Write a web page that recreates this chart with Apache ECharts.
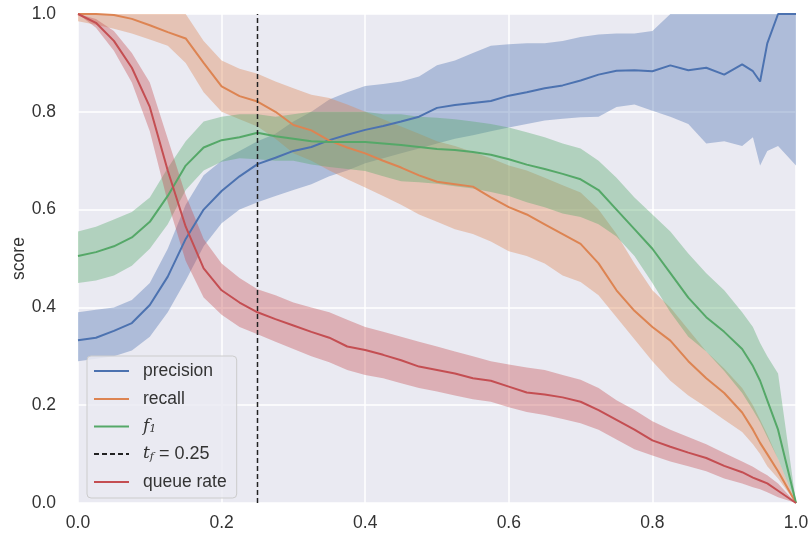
<!DOCTYPE html>
<html>
<head>
<meta charset="utf-8">
<script src="https://cdn.jsdelivr.net/npm/echarts@6/dist/echarts.min.js"></script>
<style>
  html, body { margin: 0; padding: 0; background: #fff; }
  #chart { width: 811px; height: 548px; }
</style>
</head>
<body>
<div id="chart"></div>
<script>
// thresholds (x) shared by every curve
var xs = [0, 0.025, 0.05, 0.075, 0.1, 0.125, 0.15, 0.175, 0.2, 0.225,
  0.25, 0.275, 0.3, 0.325, 0.35, 0.375, 0.4, 0.425, 0.45, 0.475,
  0.5, 0.525, 0.55, 0.575, 0.6, 0.625, 0.65, 0.675, 0.7, 0.725,
  0.75, 0.775, 0.8, 0.825, 0.85, 0.875, 0.9, 0.925, 0.94, 0.95,
  0.96, 0.975, 1.0];

var precMean = [0.333, 0.338, 0.352, 0.368, 0.405, 0.463, 0.54, 0.60, 0.638, 0.668,
  0.693, 0.706, 0.72, 0.728, 0.742, 0.753, 0.763, 0.771, 0.78, 0.79,
  0.808, 0.814, 0.818, 0.822, 0.833, 0.84, 0.848, 0.854, 0.864, 0.876,
  0.884, 0.885, 0.883, 0.895, 0.885, 0.89, 0.876, 0.897, 0.883, 0.862,
  0.94, 1.0, 1.0];
var precLo = [0.29, 0.295, 0.30, 0.312, 0.34, 0.39, 0.455, 0.525, 0.572, 0.60,
  0.615, 0.628, 0.64, 0.652, 0.668, 0.68, 0.695, 0.705, 0.715, 0.725,
  0.735, 0.745, 0.752, 0.76, 0.768, 0.775, 0.782, 0.786, 0.789, 0.79,
  0.81, 0.815, 0.802, 0.79, 0.775, 0.735, 0.74, 0.73, 0.748, 0.69,
  0.72, 0.73, 0.69];
var precHi = [0.39, 0.395, 0.40, 0.415, 0.45, 0.52, 0.61, 0.67, 0.70, 0.72,
  0.74, 0.755, 0.78, 0.80, 0.825, 0.84, 0.853, 0.857, 0.862, 0.872,
  0.895, 0.905, 0.92, 0.935, 0.938, 0.94, 0.94, 0.945, 0.953, 0.958,
  0.96, 0.96, 0.965, 1.0, 1.0, 1.0, 1.0, 1.0, 1.0, 1.0,
  1.0, 1.0, 1.0];

var recMean = [1.0, 1.0, 0.998, 0.99, 0.977, 0.963, 0.95, 0.90, 0.852, 0.832,
  0.821, 0.80, 0.773, 0.762, 0.741, 0.727, 0.715, 0.70, 0.686, 0.67,
  0.657, 0.652, 0.647, 0.625, 0.605, 0.59, 0.57, 0.55, 0.53, 0.49,
  0.435, 0.393, 0.36, 0.332, 0.29, 0.255, 0.225, 0.185, 0.15, 0.123,
  0.10, 0.065, 0.0];
var recLo = [0.985, 0.978, 0.97, 0.96, 0.948, 0.935, 0.90, 0.84, 0.80, 0.785,
  0.77, 0.745, 0.715, 0.70, 0.68, 0.662, 0.645, 0.628, 0.61, 0.59,
  0.575, 0.56, 0.55, 0.535, 0.515, 0.505, 0.49, 0.465, 0.452, 0.425,
  0.38, 0.335, 0.29, 0.25, 0.22, 0.196, 0.17, 0.145, 0.12, 0.10,
  0.075, 0.05, 0.0];
var recHi = [1.0, 1.0, 1.0, 1.0, 1.0, 1.0, 1.0, 0.945, 0.905, 0.888,
  0.878, 0.862, 0.848, 0.835, 0.828, 0.815, 0.80, 0.785, 0.77, 0.755,
  0.74, 0.73, 0.718, 0.705, 0.69, 0.68, 0.665, 0.65, 0.635, 0.60,
  0.55, 0.49, 0.435, 0.40, 0.355, 0.31, 0.275, 0.235, 0.20, 0.17,
  0.14, 0.09, 0.0];

var f1Mean = [0.505, 0.513, 0.525, 0.543, 0.575, 0.628, 0.69, 0.727, 0.742, 0.748,
  0.757, 0.75, 0.745, 0.74, 0.738, 0.738, 0.738, 0.735, 0.732, 0.728,
  0.724, 0.722, 0.718, 0.712, 0.703, 0.692, 0.683, 0.673, 0.662, 0.64,
  0.60, 0.56, 0.52, 0.47, 0.42, 0.38, 0.35, 0.315, 0.28, 0.25,
  0.21, 0.15, 0.0];
var f1Lo = [0.45, 0.455, 0.465, 0.485, 0.52, 0.57, 0.64, 0.68, 0.698, 0.705,
  0.703, 0.70, 0.70, 0.692, 0.687, 0.683, 0.679, 0.668, 0.658, 0.656,
  0.653, 0.648, 0.643, 0.636, 0.628, 0.615, 0.605, 0.592, 0.585, 0.57,
  0.545, 0.505, 0.45, 0.39, 0.34, 0.31, 0.27, 0.225, 0.19, 0.165,
  0.135, 0.09, 0.0];
var f1Hi = [0.555, 0.565, 0.58, 0.595, 0.625, 0.685, 0.74, 0.78, 0.79, 0.795,
  0.795, 0.79, 0.795, 0.80, 0.80, 0.80, 0.80, 0.795, 0.795, 0.79,
  0.788, 0.785, 0.78, 0.775, 0.768, 0.758, 0.748, 0.735, 0.725, 0.70,
  0.665, 0.625, 0.59, 0.555, 0.51, 0.47, 0.435, 0.39, 0.36, 0.327,
  0.30, 0.265, 0.0];

var qMean = [1.0, 0.982, 0.945, 0.89, 0.81, 0.68, 0.565, 0.48, 0.435, 0.41,
  0.39, 0.376, 0.363, 0.35, 0.338, 0.32, 0.313, 0.303, 0.292, 0.279,
  0.272, 0.265, 0.255, 0.25, 0.238, 0.226, 0.222, 0.216, 0.207, 0.19,
  0.17, 0.15, 0.128, 0.115, 0.103, 0.092, 0.076, 0.063, 0.052, 0.046,
  0.04, 0.025, 0.0];
var qLo = [1.0, 0.972, 0.925, 0.86, 0.76, 0.615, 0.495, 0.42, 0.385, 0.36,
  0.345, 0.33, 0.315, 0.30, 0.288, 0.272, 0.262, 0.255, 0.245, 0.235,
  0.228, 0.22, 0.212, 0.207, 0.196, 0.186, 0.18, 0.172, 0.163, 0.15,
  0.13, 0.11, 0.097, 0.085, 0.075, 0.065, 0.05, 0.04, 0.032, 0.028,
  0.022, 0.012, 0.0];
var qHi = [1.0, 0.99, 0.965, 0.92, 0.86, 0.745, 0.63, 0.54, 0.49, 0.46,
  0.437, 0.425, 0.41, 0.40, 0.39, 0.375, 0.36, 0.35, 0.34, 0.33,
  0.32, 0.31, 0.30, 0.29, 0.283, 0.277, 0.272, 0.262, 0.252, 0.235,
  0.21, 0.19, 0.167, 0.15, 0.135, 0.12, 0.102, 0.085, 0.074, 0.065,
  0.057, 0.04, 0.0];

var threshold = 0.25;

var FONT = 'Liberation Sans, Arial, sans-serif';
var FS = 17.5;
var colors = {
  precision: '#4C72B0',
  recall: '#DD8452',
  f1: '#55A868',
  queue: '#C44E52'
};

function pairs(vals) {
  var out = [];
  for (var i = 0; i < xs.length; i++) {
    out.push([xs[i], vals[i]]);
  }
  return out;
}

// confidence band drawn as one polygon through the axes
function band(lo, hi, color) {
  return {
    type: 'custom',
    silent: true,
    data: [0],
    renderItem: function (params, api) {
      var pts = [];
      for (var i = 0; i < xs.length; i++) {
        pts.push(api.coord([xs[i], hi[i]]));
      }
      for (var j = xs.length - 1; j >= 0; j--) {
        pts.push(api.coord([xs[j], lo[j]]));
      }
      return {
        type: 'polygon',
        shape: {points: pts},
        style: {fill: color, opacity: 0.38}
      };
    }
  };
}

function curve(name, vals, color) {
  return {
    name: name,
    type: 'line',
    data: pairs(vals),
    symbol: 'none',
    showSymbol: false,
    color: color,
    lineStyle: {color: color, width: 2},
    silent: true
  };
}

var chart = echarts.init(document.getElementById('chart'));
var option = {
  animation: false,
  backgroundColor: '#fff',
  grid: {
    left: 78, right: 15, top: 14, bottom: 45,
    outerBoundsMode: 'none',
    containLabel: false,
    show: true, backgroundColor: '#EAEAF2', borderWidth: 0
  },
  legend: {
    orient: 'vertical',
    left: 87,
    top: 356,
    data: ['precision', 'recall', 'f1', 'tf', 'queue rate'],
    itemWidth: 35,
    itemHeight: 14,
    itemGap: 10,
    padding: [6, 10, 7, 6],
    backgroundColor: 'rgba(234,234,242,0.85)',
    borderColor: '#cccccc',
    borderWidth: 1,
    borderRadius: 4,
    itemStyle: {opacity: 0},
    textStyle: {
      fontFamily: FONT, fontSize: FS, color: '#333', padding: [0, 0, 0, 9],
      rich: {
        it: {fontFamily: 'DejaVu Serif, serif', fontStyle: 'italic', fontSize: 17, color: '#333'},
        sub: {fontFamily: 'DejaVu Serif, serif', fontStyle: 'italic', fontSize: 11, color: '#333', padding: [6, 0, 0, 0]},
        n: {fontFamily: FONT, fontSize: 18, color: '#333'}
      }
    },
    formatter: function (name) {
      if (name == 'f1') {
        return '{it|f}{sub|1}';
      }
      if (name == 'tf') {
        return '{it|t}{sub|f}{n| = 0.25}';
      }
      return name;
    }
  },
  xAxis: {
    type: 'value',
    min: 0,
    max: 1,
    interval: 0.2,
    axisLine: {show: false},
    axisTick: {show: false},
    axisLabel: {
      fontFamily: FONT, fontSize: FS, color: '#333', margin: 11,
      formatter: function (v) { return v.toFixed(1); }
    },
    splitLine: {lineStyle: {color: '#fff', width: 1.5}}
  },
  yAxis: {
    type: 'value',
    min: 0,
    max: 1,
    interval: 0.2,
    name: 'score',
    nameLocation: 'middle',
    nameGap: 50,
    nameMoveOverlap: false,
    nameTextStyle: {fontFamily: FONT, fontSize: FS, color: '#333'},
    axisLine: {show: false},
    axisTick: {show: false},
    axisLabel: {
      fontFamily: FONT, fontSize: FS, color: '#333', margin: 22,
      formatter: function (v) { return v.toFixed(1); }
    },
    splitLine: {lineStyle: {color: '#fff', width: 1.5}}
  },
  series: [
    band(precLo, precHi, colors.precision),
    curve('precision', precMean, colors.precision),
    band(recLo, recHi, colors.recall),
    curve('recall', recMean, colors.recall),
    band(f1Lo, f1Hi, colors.f1),
    curve('f1', f1Mean, colors.f1),
    {
      name: 'tf',
      type: 'line',
      data: [[threshold, 0], [threshold, 1]],
      symbol: 'none',
      color: '#222',
      lineStyle: {color: '#222', width: 1.5, type: [5, 3]},
      silent: true,
      z: 3
    },
    band(qLo, qHi, colors.queue),
    curve('queue rate', qMean, colors.queue)
  ]
};
chart.setOption(option);
</script>
</body>
</html>
